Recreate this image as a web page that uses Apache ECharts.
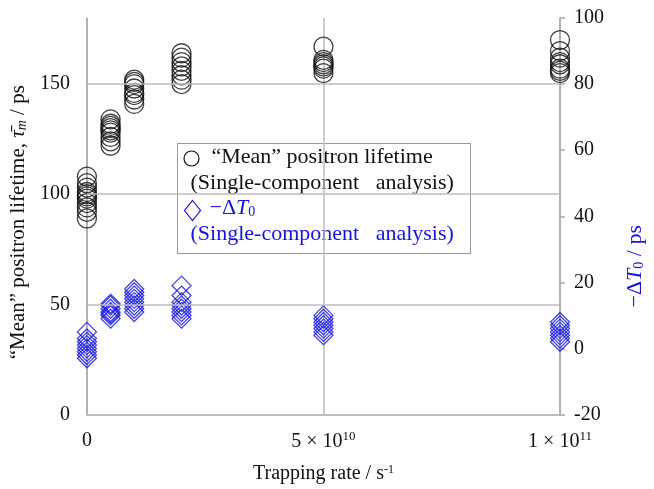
<!DOCTYPE html>
<html>
<head>
<meta charset="utf-8">
<script src="https://cdn.jsdelivr.net/npm/echarts@6/dist/echarts.min.js"></script>
<style>html,body{margin:0;padding:0;background:#fff;overflow:hidden;}#c{width:654px;height:489px;}</style>
</head>
<body>
<div id="c"></div>
<script>
// ---- data ----
const trappingRates = [0, 5e9, 1e10, 2e10, 5e10, 1e11];
const meanLifetime = [
  [89, 92, 94, 96, 98, 99, 100, 101, 103, 105, 108],
  [122, 124, 126, 128, 129, 130, 131, 132, 134],
  [141, 143, 145, 146, 148, 150, 151, 152],
  [150, 152, 154, 156, 158, 160, 162, 164],
  [155, 157, 158, 159, 160, 161, 167],
  [155, 156, 157, 159, 160, 162, 165, 170]
];
const minusDeltaT0 = [
  [-3, -2, -1, 0, 1, 2, 3, 5],
  [9, 10, 10.5, 11, 12, 13, 13.5],
  [11, 12, 13, 14, 15, 16, 17, 18],
  [9, 10, 11, 12, 13, 14, 16, 19],
  [4, 5, 6, 7, 8, 9, 10],
  [2, 3, 4, 5, 6, 7, 8]
];
const xTickValues = [0, 5e10, 1e11];
const xTickTexts = ['0', '5 × 10{sup|10}', '1 × 10{sup|11}'];
const leftGridValues = [50, 100, 150];
const legendTexts = ['“Mean” positron lifetime', '(Single-component\u2002 analysis)', '(Single-component\u2002 analysis)'];

// ---- build ----
const lifeData = [];
meanLifetime.forEach((g, i) => g.forEach(v => lifeData.push([trappingRates[i], v])));
const dtData = [];
minusDeltaT0.forEach((g, i) => g.forEach(v => dtData.push([trappingRates[i], v])));

const FONT = 'Liberation Serif';
const BLUE = '#1515dd';
const GRID = '#bcbcbc';
const AXIS = '#a8a8a8';
const TXT = '#111';

const chart = echarts.init(document.getElementById('c'), null, {renderer: 'canvas'});
chart.setOption({
  backgroundColor: '#fff',
  animation: false,
  grid: {left: 83, right: 82, top: 18, bottom: 64, containLabel: false},
  xAxis: {
    type: 'value', min: 0, max: 1e11, interval: 5e10,
    axisLine: {show: true, onZero: false, lineStyle: {color: AXIS, width: 1.5}},
    axisTick: {show: false},
    splitLine: {show: true, lineStyle: {color: GRID, width: 1.5}},
    axisLabel: {
      margin: 16, color: TXT, fontFamily: FONT, fontSize: 20,
      formatter: v => { const i = xTickValues.indexOf(v); return i >= 0 ? xTickTexts[i] : ''; },
      rich: {sup: {fontSize: 13, fontFamily: FONT, color: TXT, verticalAlign: 'top', padding: [0, 0, 9, 0]}}
    },
    name: 'Trapping rate / s{sup|-1}', nameLocation: 'middle', nameGap: 49,
    nameTextStyle: {color: TXT, fontFamily: FONT, fontSize: 20,
      rich: {sup: {fontSize: 12, fontFamily: FONT, color: TXT, verticalAlign: 'top', padding: [0, 0, 9, 0]}}}
  },
  yAxis: [{
    type: 'value', min: 0, max: 180, interval: 50, position: 'left',
    axisLine: {show: true, lineStyle: {color: AXIS, width: 1.5}},
    axisTick: {show: false},
    splitLine: {show: false},
    axisLabel: {showMaxLabel: false, margin: 17, color: TXT, fontFamily: FONT, fontSize: 20},
    name: '“Mean” positron lifetime, {i|τ̄}{sub|m} / ps', nameLocation: 'middle', nameGap: 56, nameRotate: 90,
    nameTextStyle: {color: TXT, fontFamily: FONT, fontSize: 21, padding: [0, 12, 0, 0],
      rich: {i: {fontStyle: 'italic', fontFamily: FONT, fontSize: 21, color: TXT},
             sub: {fontStyle: 'italic', fontFamily: FONT, fontSize: 14, color: TXT, verticalAlign: 'bottom'}}}
  }, {
    type: 'value', min: -20, max: 100, interval: 20, position: 'right',
    axisLine: {show: true, lineStyle: {color: AXIS, width: 1.5}},
    axisTick: {show: true, inside: false, length: 5, lineStyle: {color: AXIS, width: 1.5}},
    splitLine: {show: false},
    axisLabel: {margin: 14, color: TXT, fontFamily: FONT, fontSize: 20},
    name: '−Δ{i|T}{sub|0} / ps', nameLocation: 'middle', nameGap: 64, nameRotate: 90,
    nameTextStyle: {color: BLUE, fontFamily: FONT, fontSize: 22, padding: [0, 100, 0, 0],
      rich: {i: {fontStyle: 'italic', fontFamily: FONT, fontSize: 22, color: BLUE},
             sub: {fontFamily: FONT, fontSize: 14, color: BLUE, verticalAlign: 'bottom'}}}
  }],
  series: [{
    name: 'Mean positron lifetime', type: 'scatter', yAxisIndex: 0, data: lifeData,
    symbol: 'circle', symbolSize: 19,
    itemStyle: {color: 'rgba(0,0,0,0)', borderColor: '#111', borderWidth: 1.3},
    markLine: {silent: true, symbol: 'none', label: {show: false}, animation: false,
      lineStyle: {color: GRID, width: 1.5, type: 'solid'},
      data: leftGridValues.map(v => ({yAxis: v}))},
    z: 3
  }, {
    name: '−ΔT0', type: 'scatter', yAxisIndex: 1, data: dtData,
    symbol: 'diamond', symbolSize: 19,
    itemStyle: {color: 'rgba(0,0,0,0)', borderColor: BLUE, borderWidth: 1.3},
    z: 4
  }],
  graphic: [{
    type: 'group', left: 177, top: 143, z: 100,
    children: [
      {type: 'rect', shape: {x: 0, y: 0, width: 293, height: 110}, style: {fill: '#fff', stroke: '#9a9a9a', lineWidth: 1}},
      {type: 'circle', shape: {cx: 14, cy: 15, r: 7.5}, style: {fill: 'none', stroke: '#111', lineWidth: 1.2}},
      {type: 'text', x: 34, y: 3, style: {text: legendTexts[0], font: '22px "Liberation Serif"', fill: TXT}},
      {type: 'text', x: 13, y: 29, style: {text: legendTexts[1], font: '22px "Liberation Serif"', fill: TXT}},
      {type: 'polygon', shape: {points: [[15, 57], [23, 67], [15, 77], [7, 67]]}, style: {fill: 'none', stroke: BLUE, lineWidth: 1.2}},
      {type: 'text', x: 32, y: 54, style: {text: '−Δ{i|T}{sub|0}', font: '22px "Liberation Serif"', fill: BLUE,
        rich: {i: {fontStyle: 'italic', fontFamily: FONT, fontSize: 22, color: BLUE},
               sub: {fontFamily: FONT, fontSize: 14, color: BLUE, verticalAlign: 'bottom'}}}},
      {type: 'text', x: 13, y: 80, style: {text: legendTexts[2], font: '22px "Liberation Serif"', fill: BLUE}}
    ]
  }]
});
</script>
</body>
</html>
